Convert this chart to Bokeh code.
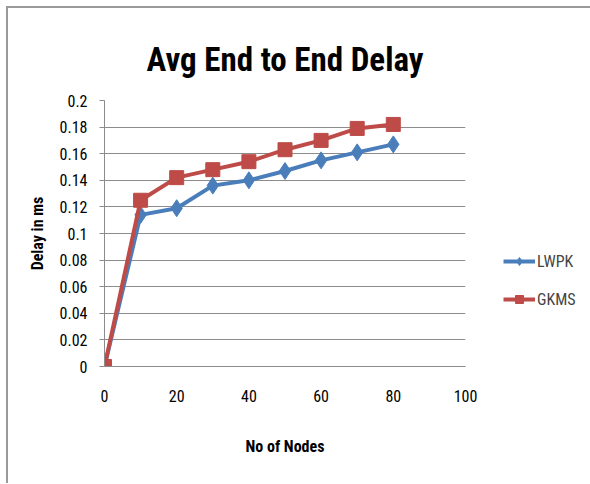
from bokeh.plotting import figure
from bokeh.models import Range1d, FixedTicker, Legend, LegendItem
from bokeh.embed import file_html
from bokeh.resources import INLINE

nodes = [0, 10, 20, 30, 40, 50, 60, 70, 80]
lwpk = [0, 0.114, 0.119, 0.136, 0.140, 0.147, 0.155, 0.161, 0.167]
gkms = [0, 0.125, 0.142, 0.148, 0.154, 0.163, 0.170, 0.179, 0.182]
x_ticks = [0, 20, 40, 60, 80, 100]
y_ticks = [0, 0.02, 0.04, 0.06, 0.08, 0.1, 0.12, 0.14, 0.16, 0.18, 0.2]
y_tick_labels = ["0", "0.02", "0.04", "0.06", "0.08", "0.1", "0.12", "0.14", "0.16", "0.18", "0.2"]

FONT = "Liberation Sans Narrow, Roboto Condensed, Roboto"

p = figure(frame_width=361, frame_height=266, output_backend="svg", toolbar_location=None,
           x_range=Range1d(0, 100), y_range=Range1d(0, 0.2),
           min_border_left=96, min_border_right=124, min_border_top=92, min_border_bottom=117)
p.styles = {"border-top": "2px solid #9a9a9a", "border-left": "2px solid #9a9a9a",
            "margin-left": "6px", "margin-top": "6px"}
p.outline_line_color = None
p.background_fill_color = "white"
p.border_fill_color = "white"

p.title.text = "Avg End to End Delay"
p.title.align = "center"
p.title.text_font = FONT
p.title.text_font_size = "33px"
p.title.text_font_style = "bold"
p.title.text_color = "black"
p.title.text_line_height = 0.8
p.title.offset = 0
p.title.standoff = 44

p.xaxis.ticker = FixedTicker(ticks=x_ticks)
p.yaxis.ticker = FixedTicker(ticks=y_ticks)
p.yaxis.major_label_overrides = {t: l for t, l in zip(y_ticks, y_tick_labels)}
for ax in (p.xaxis[0], p.yaxis[0]):
    ax.major_label_text_font = FONT
    ax.major_label_text_font_size = "16px"
    ax.major_label_text_color = "black"
    ax.axis_label_text_font = FONT
    ax.axis_label_text_font_size = "16px"
    ax.axis_label_text_font_style = "bold"
    ax.axis_label_text_color = "black"
    ax.minor_tick_line_color = None
    ax.axis_line_color = "#8c8c8c"
    ax.major_tick_line_color = "#8c8c8c"
    ax.major_tick_in = 0
    ax.major_tick_out = 5
p.xaxis.axis_label = "No of Nodes"
p.yaxis.axis_label = "Delay in ms"
p.xaxis.major_label_standoff = 18
p.xaxis.axis_label_standoff = 32
p.yaxis.major_label_standoff = 12
p.yaxis.axis_label_standoff = 10
p.xaxis.major_tick_line_color = None

p.xgrid.grid_line_color = None
p.ygrid.grid_line_color = "#8c8c8c"
p.ygrid.grid_line_width = 1

blue = "#4A7EBB"
red = "#BE4B48"
l1 = p.line(nodes, lwpk, line_color=blue, line_width=4)
m1 = p.scatter(nodes, lwpk, marker="diamond", size=17, fill_color=blue, line_color=blue)
l2 = p.line(nodes, gkms, line_color=red, line_width=4)
m2 = p.scatter(nodes, gkms, marker="square", size=14, fill_color=red, line_color=red)

legend = Legend(items=[LegendItem(label="LWPK", renderers=[l1, m1]),
                       LegendItem(label="GKMS", renderers=[l2, m2])],
                location=(38, 57), border_line_color=None, background_fill_alpha=0,
                label_text_font=FONT, label_text_font_size="16px",
                glyph_width=32, spacing=18, label_standoff=2, padding=0, margin=0)
p.add_layout(legend, "right")

open("out.html", "w").write(file_html(p, INLINE))
